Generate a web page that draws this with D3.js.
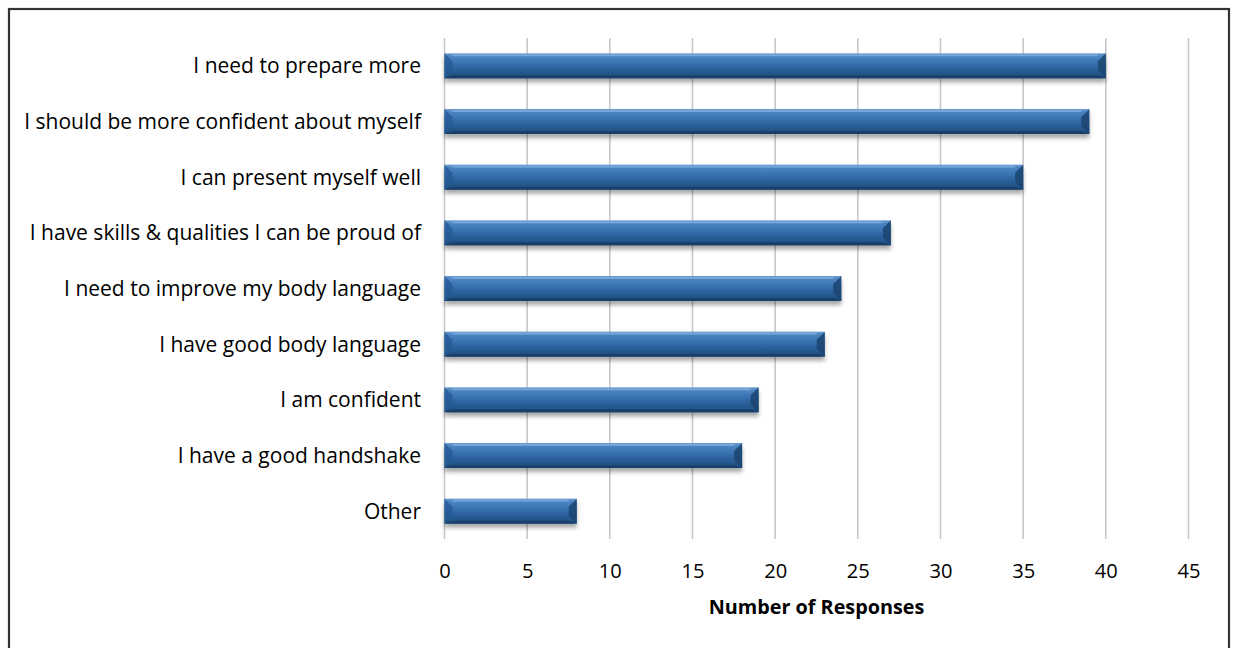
<!DOCTYPE html>
<html>
<head>
<meta charset="utf-8">
<script src="https://cdn.jsdelivr.net/npm/d3@7"></script>
<style>
  html, body { margin: 0; padding: 0; background: #fff; }
  svg { display: block; }
  text { font-family: "Open Sans", "Lato", sans-serif; fill: #000; }
</style>
</head>
<body>
<svg id="chart" width="1236" height="648"></svg>
<script>
// Survey answers, listed top to bottom
const categories = [
  "I need to prepare more",
  "I should be more confident about myself",
  "I can present myself well",
  "I have skills & qualities I can be proud of",
  "I need to improve my body language",
  "I have good body language",
  "I am confident",
  "I have a good handshake",
  "Other"
];
const responses = [40, 39, 35, 27, 24, 23, 19, 18, 8];
const xTicks = [0, 5, 10, 15, 20, 25, 30, 35, 40, 45];
const xTitle = "Number of Responses";

const svg = d3.select("#chart");
const plot = { left: 444.5, right: 1188.5, top: 38, bottom: 539 };

// Pick a font size so a sample string spans the wanted width
function fitSize(str, targetWidth, weight) {
  const t = svg.append("text").attr("font-size", 20).attr("font-weight", weight || "normal").text(str);
  const w = t.node().getComputedTextLength();
  t.remove();
  return 20 * targetWidth / w;
}
const labelSize = fitSize("I should be more confident about myself", 397);
const tickSize = fitSize("45", 23);
const titleSize = fitSize(xTitle, 216, "bold");

// Chart frame
svg.append("rect")
  .attr("x", 9).attr("y", 9)
  .attr("width", 1220).attr("height", 660)
  .attr("fill", "#fff").attr("stroke", "#333").attr("stroke-width", 2.2);

const x = d3.scaleLinear().domain([0, 45]).range([plot.left, plot.right]);
const y = d3.scaleBand().domain(categories).range([plot.top, plot.bottom]).paddingInner(0.55).paddingOuter(0.275);

const defs = svg.append("defs");
const grad = defs.append("linearGradient").attr("id", "barGrad")
  .attr("x1", 0).attr("y1", 0).attr("x2", 0).attr("y2", 1);
[[0, "#6d9dd3"], [0.12, "#4d84c2"], [0.3, "#3f79b8"], [0.6, "#2d629f"], [0.85, "#235488"], [1, "#1d4673"]]
  .forEach(([o, c]) => grad.append("stop").attr("offset", o).attr("stop-color", c));

const shadow = defs.append("filter").attr("id", "barShadow")
  .attr("x", "-5%").attr("y", "-50%").attr("width", "110%").attr("height", "220%");
shadow.append("feGaussianBlur").attr("in", "SourceAlpha").attr("stdDeviation", 2.2).attr("result", "blur");
shadow.append("feOffset").attr("in", "blur").attr("dx", 0).attr("dy", 4).attr("result", "off");
shadow.append("feComponentTransfer").attr("in", "off").attr("result", "soft")
  .append("feFuncA").attr("type", "linear").attr("slope", 0.35);
const merge = shadow.append("feMerge");
merge.append("feMergeNode").attr("in", "soft");
merge.append("feMergeNode").attr("in", "SourceGraphic");

// Vertical gridlines
svg.append("g").selectAll("line").data(xTicks).join("line")
  .attr("x1", d => x(d)).attr("x2", d => x(d))
  .attr("y1", plot.top).attr("y2", plot.bottom)
  .attr("stroke", "#c4c4c4").attr("stroke-width", 1.5);

// Bars with bevelled ends
const bars = svg.append("g").selectAll("g").data(categories).join("g")
  .attr("transform", d => `translate(0,${y(d)})`);
const bh = y.bandwidth();
const bev = Math.min(8, bh * 0.35);

bars.append("rect")
  .attr("x", x(0)).attr("y", 0)
  .attr("width", (d, i) => x(responses[i]) - x(0))
  .attr("height", bh)
  .attr("fill", "url(#barGrad)")
  .attr("filter", "url(#barShadow)");

// top highlight
bars.append("rect")
  .attr("x", x(0) + bev).attr("y", 1)
  .attr("width", (d, i) => Math.max(0, x(responses[i]) - x(0) - 2 * bev))
  .attr("height", 2)
  .attr("fill", "#8db7e4").attr("opacity", 0.6);

// left bevel
bars.append("path")
  .attr("d", () => {
    const x0 = x(0);
    return `M${x0},0 L${x0 + bev},${bev} L${x0 + bev},${bh - bev} L${x0},${bh} Z`;
  })
  .attr("fill", "#245a93").attr("opacity", 0.75);

// right bevel
bars.append("path")
  .attr("d", (d, i) => {
    const x1 = x(responses[i]);
    return `M${x1},0 L${x1 - bev},${bev} L${x1 - bev},${bh - bev} L${x1},${bh} Z`;
  })
  .attr("fill", "#1b4470").attr("opacity", 0.85);

// bottom edge shade
bars.append("path")
  .attr("d", (d, i) => {
    const x0 = x(0), x1 = x(responses[i]);
    return `M${x0},${bh} L${x0 + bev},${bh - 3} L${x1 - bev},${bh - 3} L${x1},${bh} Z`;
  })
  .attr("fill", "#173b62").attr("opacity", 0.7);

// Category labels
svg.append("g").selectAll("text").data(categories).join("text")
  .attr("x", 421)
  .attr("y", d => y(d) + bh / 2)
  .attr("dy", "0.35em")
  .attr("text-anchor", "end")
  .attr("font-size", labelSize)
  .text(d => d);

// X axis tick labels
const xAxis = d3.axisBottom(x).tickValues(xTicks).tickSize(0).tickPadding(0);
const gx = svg.append("g").attr("transform", `translate(0,${plot.bottom + 32})`).call(xAxis);
gx.select(".domain").remove();
gx.selectAll("text")
  .attr("font-size", tickSize)
  .attr("font-family", "'Open Sans', Lato, sans-serif")
  .attr("fill", "#000")
  .attr("dy", "0.35em");

// Axis title
svg.append("text")
  .attr("x", (plot.left + plot.right) / 2)
  .attr("y", 607)
  .attr("dy", "0.35em")
  .attr("text-anchor", "middle")
  .attr("font-size", titleSize)
  .attr("font-weight", "bold")
  .text(xTitle);
</script>
</body>
</html>
